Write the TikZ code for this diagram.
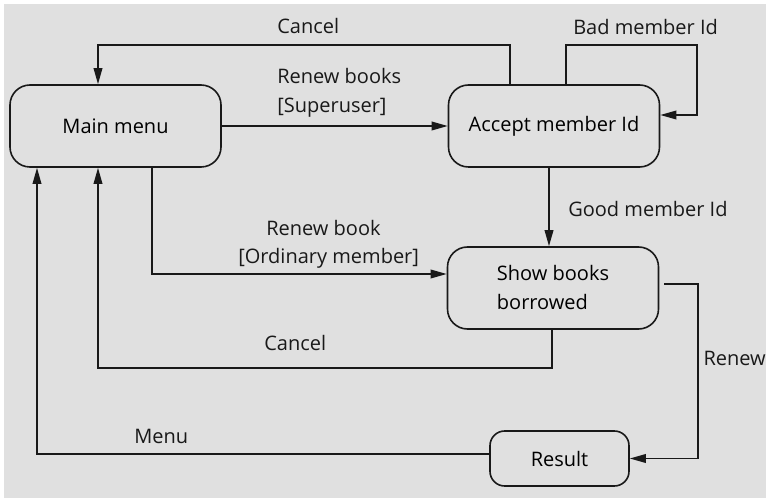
\documentclass[tikz,border=0pt]{standalone}
\usepackage{fontspec}
\setmainfont{Open Sans}
\usepackage{xcolor}
\usetikzlibrary{arrows.meta,calc}

\definecolor{panel}{RGB}{224,224,224}
\definecolor{ink}{RGB}{25,25,25}

\tikzset{
  state/.style={draw=ink, line width=1.2pt, rounded corners=15pt, minimum width=158.25pt, minimum height=61.5pt, inner sep=0pt},
  flow/.style={draw=ink, line width=1.1pt, -{Triangle[length=12pt,width=6.5pt]}},
  lbl/.style={anchor=base west, inner sep=0pt, text=ink},
}

\begin{document}
\begin{tikzpicture}[x=0.75pt, y=-0.75pt, font=\fontsize{15pt}{21.75pt}\selectfont]
    \useasboundingbox (0,0) rectangle (766,498);
    \fill[panel] (4,4) rectangle (766,498);

    \node[state] (main) at (115.5,126) {Main menu};
    \node[state] (accept) at (554,126) {Accept member Id};
    \node[state, align=left] (show) at (553,288) {Show books\\borrowed};
    \node[state, minimum width=104.25pt, minimum height=41.25pt, rounded corners=11pt] (result) at (559.5,458.5) {Result};

    \coordinate (cTopL) at (98,45);
    \coordinate (cTopR) at (510,45);
    \coordinate (badL) at (566,45);
    \coordinate (badR) at (697,45);
    \coordinate (ordB) at (152,274);
    \coordinate (goodX) at (549,0);
    \coordinate (cBot) at (552,368);
    \coordinate (renR) at (698,284);
    \coordinate (menuL) at (37,454);

    \draw[flow] (cTopR |- accept.north) -- (cTopR) -- (cTopL) -- (cTopL |- main.north);
    \draw[flow] (badL |- accept.north) -- (badL) -- (badR) |- ($(accept.east)+(0,-11)$);
    \draw[flow] (main.east) -- (accept.west);
    \draw[flow] (ordB |- main.south) -- (ordB) -- (ordB -| show.west);
    \draw[flow] (goodX |- accept.south) -- (goodX |- show.north);
    \draw[flow] (cBot |- show.south) -- (cBot) -| (cTopL |- main.south);
    \draw[flow, shorten <=3.75pt] (renR -| show.east) -- (renR) |- (result.east);
    \draw[flow] (menuL -| result.west) -- (menuL) -- (menuL |- main.south);

    \node[lbl] (lCancelTop) at (277,34) {Cancel};
    \node[lbl] (lBad) at (573,35) {Bad member Id};
    \node[lbl] (lRenewBooks) at (277,84) {Renew books};
    \node[lbl] (lSuper) at (277,113) {[Superuser]};
    \node[lbl] (lGood) at (568,217) {Good member Id};
    \node[lbl] (lRenewBook) at (266,236) {Renew book};
    \node[lbl] (lOrdinary) at (238,264) {[Ordinary member]};
    \node[lbl] (lCancelBot) at (264,350) {Cancel};
    \node[lbl, anchor=base east] (lRenew) at (766,365) {Renew};
    \node[lbl] (lMenu) at (134,443) {Menu};
\end{tikzpicture}
\end{document}
